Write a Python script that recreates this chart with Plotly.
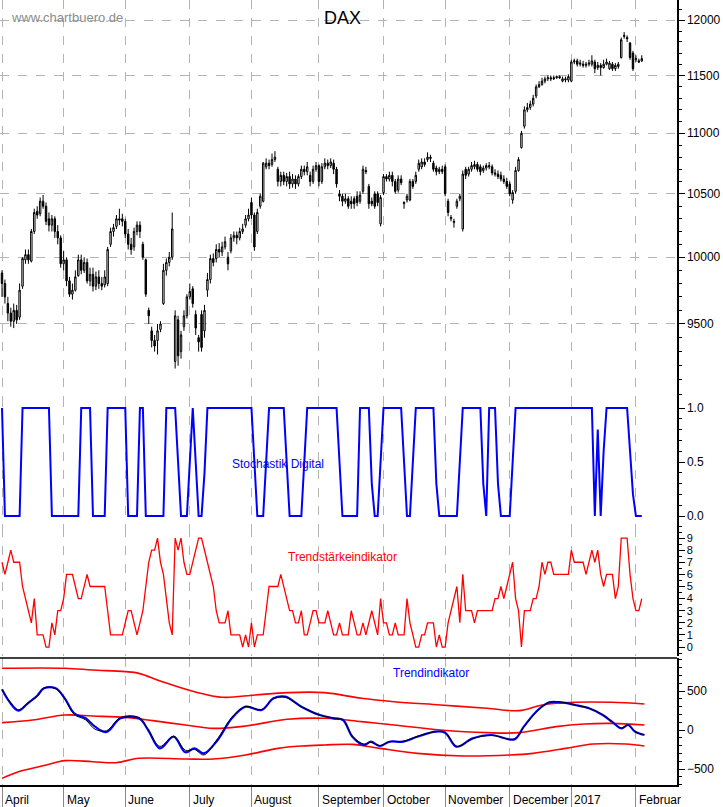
import plotly.graph_objects as go

# ---------------- DATA ----------------
month_labels = ["April", "May", "June", "July", "August", "September", "October",
                "November", "December", "2017", "Februar"]
month_start_day = [0, 21, 42, 64, 85, 108, 130, 151, 173, 194, 216]

# daily candles (trading day index 0..218)
opens = [9880,9800,9650,9580,9520,9600,9550,9780,9980,10020,9970,10200,10360,10340,10440,10400,10300,10250,10300,10200,10150,
 9950,9980,9820,9720,9750,9860,9980,9900,9960,9820,9870,9780,9850,9800,9790,9800,10100,10200,10240,10300,10300,
 10280,10180,10100,10080,10200,10250,10100,9980,9600,9450,9380,9380,9460,9650,9900,9960,10000,9230,9530,9300,9480,9560,
 9700,9760,9570,9400,9570,9450,9750,9830,9990,9990,10060,10040,10080,10000,10050,10150,10170,10150,10200,10250,10300,
 10430,10330,10200,10400,10440,10720,10750,10740,10780,10700,10600,10650,10600,10640,10580,10620,10580,10640,10700,10680,10650,10600,10700,
 10730,10600,10720,10750,10730,10750,10700,10500,10480,10440,10460,10440,10460,10480,10440,10520,10690,10560,10440,10500,10500,10260,
 10510,10640,10620,10650,10600,10530,10620,10420,10450,10450,10600,10600,10700,10720,10760,10780,10800,10750,10710,10680,10700,
 10720,10440,10300,10270,10400,10460,10220,10700,10660,10700,10720,10740,10720,10690,10710,10730,10720,10670,10660,10650,10620,10600,
 10580,10450,10520,10690,10880,11060,11200,11220,11250,11320,11400,11420,11450,11470,11480,11470,11480,11490,11450,11460,11460,
 11450,11620,11630,11600,11600,11590,11600,11600,11620,11570,11590,11570,11600,11560,11600,11560,11580,11660,11850,11840,11790,11700,
 11640,11630,11630]
closes = [9800,9700,9580,9520,9600,9530,9750,9990,10020,9980,10200,10350,10330,10440,10400,10280,10250,10300,10200,10150,9950,
 9980,9820,9720,9750,9850,9980,9900,9960,9820,9870,9780,9850,9800,9780,9850,10060,10200,10230,10300,10290,10280,
 10180,10100,10060,10200,10250,10200,10000,9720,9560,9380,9340,9450,9500,9900,9960,10000,10220,9560,9270,9420,9560,9700,
 9740,9650,9470,9370,9330,9600,9830,9990,9960,10060,10040,10080,10120,9950,10150,10170,10150,10200,10220,10300,10330,
 10330,10080,10350,10480,10750,10750,10730,10780,10800,10600,10650,10600,10640,10580,10620,10580,10640,10700,10680,10720,10600,10700,10730,
 10600,10720,10750,10730,10760,10700,10580,10480,10440,10460,10400,10420,10420,10430,10490,10700,10680,10420,10420,10400,10430,10470,
 10640,10620,10650,10600,10520,10620,10590,10430,10480,10600,10560,10650,10750,10760,10740,10800,10790,10700,10680,10700,10680,
 10500,10350,10310,10280,10440,10480,10660,10650,10700,10730,10740,10700,10680,10710,10730,10720,10670,10660,10640,10620,10600,10560,
 10500,10510,10690,10780,11000,11200,11220,11250,11300,11400,11420,11450,11470,11480,11470,11480,11490,11480,11470,11470,11490,
 11620,11630,11600,11610,11590,11600,11610,11630,11560,11590,11570,11600,11620,11610,11560,11590,11600,11820,11860,11830,11660,11560,
 11650,11620,11650]
highs = [9900,9830,9700,9620,9650,9640,9800,10000,10060,10060,10220,10380,10400,10470,10490,10430,10350,10330,10320,10250,10170,
 10050,10000,9850,9800,9900,10020,10020,10000,9990,9920,9920,9890,9900,9850,9900,10080,10230,10260,10330,10380,10340,
 10300,10220,10150,10230,10280,10280,10120,9990,9620,9480,9420,9500,9520,9950,9990,10040,10350,9600,9560,9450,9600,9720,
 9800,9780,9600,9420,9600,9640,9880,10020,10030,10100,10110,10120,10160,10040,10180,10200,10200,10230,10260,10330,10380,
 10470,10350,10380,10500,10760,10790,10780,10830,10850,10720,10680,10680,10670,10680,10660,10650,10660,10730,10730,10760,10680,10730,10760,
 10740,10750,10790,10780,10790,10780,10720,10530,10500,10500,10480,10480,10480,10520,10520,10730,10720,10580,10470,10520,10520,10490,
 10660,10660,10680,10680,10620,10650,10650,10440,10500,10620,10620,10680,10780,10790,10790,10840,10820,10770,10730,10720,10730,
 10740,10460,10330,10300,10460,10500,10690,10720,10720,10760,10770,10760,10740,10730,10750,10760,10740,10700,10690,10680,10650,10630,
 10600,10530,10720,10800,11020,11230,11260,11280,11330,11420,11450,11480,11490,11500,11500,11500,11500,11500,11490,11490,11510,
 11640,11650,11650,11640,11630,11620,11640,11680,11640,11620,11610,11640,11650,11630,11620,11610,11620,11840,11890,11860,11800,11720,
 11680,11650,11680]
lows = [9700,9650,9520,9480,9470,9500,9530,9760,9950,9950,9960,10180,10300,10320,10380,10250,10200,10200,10150,10100,9920,
 9900,9780,9700,9680,9740,9850,9870,9880,9800,9780,9740,9750,9760,9750,9770,9780,10080,10160,10220,10250,10240,
 10150,10060,10020,10050,10170,10150,9980,9700,9500,9330,9300,9280,9440,9640,9860,9930,9980,9180,9200,9250,9450,9540,
 9680,9620,9420,9300,9300,9400,9700,9800,9930,9960,10000,10010,10060,9900,10030,10120,10100,10130,10180,10230,10280,
 10300,10050,10180,10380,10430,10700,10700,10720,10760,10560,10560,10570,10560,10540,10550,10540,10560,10620,10650,10650,10560,10580,10680,
 10560,10580,10700,10700,10710,10660,10550,10440,10400,10420,10380,10380,10380,10400,10420,10500,10660,10380,10400,10380,10400,10240,
 10490,10600,10600,10560,10500,10510,10570,10380,10430,10440,10540,10580,10680,10700,10720,10760,10760,10680,10650,10660,10660,
 10480,10320,10280,10230,10380,10440,10200,10620,10640,10680,10700,10680,10650,10670,10690,10700,10650,10640,10620,10600,10580,10540,
 10480,10420,10500,10680,10870,11040,11180,11200,11230,11300,11390,11410,11430,11450,11450,11460,11470,11470,11440,11440,11440,
 11440,11600,11580,11580,11570,11570,11580,11580,11520,11550,11500,11560,11590,11550,11540,11540,11560,11650,11830,11800,11640,11540,
 11620,11610,11620]

stoch_digital = [1,0,0,0,0,0,0,1,1,1,1,1,1,1,1,1,1,0,0,0,0,
 0,0,0,0,0,0,1,1,1,1,0,0,0,0,0,1,1,1,1,1,1,
 1,0,0,0,0,1,1,0,0,0,0,0,0,0,1,1,1,1,0.5,0,0,0,
 0.5,1,0.5,0,0,0.4,1,1,1,1,1,1,1,1,1,1,1,1,1,1,1,
 1,0.5,0,0,0,0.5,1,1,1,1,1,1,0.5,0,0,0,0,0,0.5,1,1,1,1,
 1,1,1,1,1,1,1,0.5,0,0,0,0,0,0,1,1,1,1,0.3,0,0,0.5,
 1,1,1,1,1,1,1,0.5,0,0,0.5,1,1,1,1,1,1,1,0.3,0,0,
 0,0,0,0,0,0.5,1,1,1,1,1,1,1,0.3,0,1,1,1,0.3,0,0,0,
 0,0.5,1,1,1,1,1,1,1,1,1,1,1,1,1,1,1,1,1,1,1,
 1,1,1,1,1,1,1,1,0,0.8,0,0.6,1,1,1,1,1,1,1,1,0.6,0.2,
 0,0,0]

trend_strength = [7,6,7,8,7,7,7,5,4,3,2,4,1,1,1,0,0,2,1,3,3,
 4,6,6,6,5,4,4,5,6,5,5,5,5,5,5,3,1,1,1,1,1,
 2,3,3,2,1,2,3,5,7,8,8,9,7,6,4,2,1,9,8,9,7,6,
 6,7,8,9,9,8,7,6,5,3,2,2,2,3,1,1,1,1,0,1,0,
 2,0,1,1,1,3,5,5,5,5,6,5,4,3,3,2,2,3,1,1,2,3,3,
 2,2,2,3,2,1,1,2,1,1,1,3,2,1,1,2,1,2,3,2,1,4,
 2,2,1,1,2,1,1,1,4,2,1,0,0,1,1,2,2,2,0,1,0,
 0,2,3,4,5,2,6,3,3,3,2,3,3,3,3,3,3,4,4,5,4,5,
 6,7,4,3,0,3,3,3,4,4,5,7,6,7,7,6,6,6,6,6,6,
 8,7,7,7,7,6,7,8,7,8,6,5,6,6,6,4,5,9,9,9,6,4,
 3,3,4]

ti_day = [0,2.5,5.6,8.8,12,14.3,18.3,21.4,24.6,28.5,31.7,35.6,40.4,46.7,49.8,53.8,58.5,62.5,65.6,68.8,
          73.5,78.3,83,88.5,92.5,96.5,102,108.3,113,116.2,119.4,123.3,125.7,128.8,132,136.7,141.5,147.8,
          151,154.9,160.4,166.8,174.6,177.8,182.6,186.5,191.2,195.2,200,204.7,207.8,211,213.4,215.7,218.9]
ti_blue = [521,363,248,342,440,534,534,406,214,150,43,-26,150,150,0,-235,-86,-286,-235,-299,
           -128,150,299,256,406,427,299,192,150,128,-86,-192,-150,-205,-150,-150,-86,-21,
           -34,-214,-107,-64,-120,43,256,355,350,321,278,192,107,21,64,-21,-64]
ti_black = [515,370,260,345,430,540,528,400,200,130,10,-10,160,160,5,-210,-80,-260,-250,-320,
            -110,160,300,262,400,420,300,190,155,130,-80,-180,-160,-200,-150,-145,-80,-20,
            -30,-210,-110,-70,-115,40,250,355,355,320,280,195,110,25,60,-25,-60]
band_day = [0,21.4,30.9,42,46.7,54.6,65.6,75.1,86.2,97.2,109.9,122.5,133.6,149.4,165.2,176.2,184.1,195.2,207.8,218.9]
band_upper = [791,791,769,748,726,620,491,419,449,479,479,406,363,321,278,248,321,355,355,333]
band_mid_day = [0,10.4,21.4,30.9,42,51.4,62.5,72,83,97.2,109.9,122.5,133.6,149.4,165.2,176.2,188.8,198.3,207.8,218.9]
band_mid = [94,128,192,179,162,120,64,21,51,137,150,107,64,0,-34,-34,43,77,85,64]
band_low_day = [0,5.6,15.1,21.4,30.9,38.8,46.7,62.5,72,83,94,102,109.9,119.4,128.8,141.5,157.2,173,180.9,192,201.4,212.6,218.9]
band_lower = [-620,-535,-449,-393,-406,-419,-363,-372,-372,-320,-235,-205,-192,-184,-235,-299,-333,-320,-299,-235,-180,-180,-205]

price_ticks = [9500, 10000, 10500, 11000, 11500, 12000]

# ---------------- FIGURE ----------------
W, H = 723, 807
FONT = "Liberation Sans, Arial, sans-serif"
GRID = dict(showgrid=True, gridcolor="#b4b4b4", griddash="dash", gridwidth=1)
days = list(range(len(closes)))
xr = [-0.68, 230.0]

def dom(top, bottom):
    return [1 - bottom / H, 1 - top / H]

fig = go.Figure()
fig.add_trace(go.Candlestick(
    x=days, open=opens, high=highs, low=lows, close=closes,
    increasing=dict(line=dict(color="black", width=1), fillcolor="white"),
    decreasing=dict(line=dict(color="black", width=1), fillcolor="black"),
    whiskerwidth=0, xaxis="x", yaxis="y", hoverinfo="skip"))
fig.add_trace(go.Scatter(x=days, y=stoch_digital, mode="lines",
    line=dict(color="#0000ff", width=2), xaxis="x2", yaxis="y2", hoverinfo="skip"))
fig.add_trace(go.Scatter(x=days, y=trend_strength, mode="lines",
    line=dict(color="#ff0000", width=1.3), xaxis="x3", yaxis="y3", hoverinfo="skip"))
for bx, by in [(band_day, band_upper), (band_mid_day, band_mid), (band_low_day, band_lower)]:
    fig.add_trace(go.Scatter(x=bx, y=by, mode="lines", line=dict(color="#ff0000", width=1.6, shape="spline"),
                             xaxis="x4", yaxis="y4", hoverinfo="skip"))
fig.add_trace(go.Scatter(x=ti_day, y=ti_blue, mode="lines", line=dict(color="#0000ff", width=2.2, shape="spline"),
                         xaxis="x4", yaxis="y4", hoverinfo="skip"))
fig.add_trace(go.Scatter(x=ti_day, y=ti_black, mode="lines", line=dict(color="black", width=1, shape="spline"),
                         xaxis="x4", yaxis="y4", hoverinfo="skip"))

xdom = [0, 677 / W]
common_x = dict(range=xr, domain=xdom, tickvals=month_start_day, showticklabels=False, automargin=False,
                ticks="", zeroline=False, showline=False, **GRID)
yfont = dict(family=FONT, size=12, color="black")
common_y = dict(side="right", showline=True, linecolor="black", linewidth=1.5, ticks="outside",
                ticklen=6, tickcolor="black", tickfont=yfont, zeroline=False, automargin=False)

fig.update_layout(
    width=W, height=H, margin=dict(l=0, r=0, t=0, b=0, autoexpand=False),
    paper_bgcolor="white", plot_bgcolor="white", showlegend=False,
    font=dict(family=FONT),
    xaxis=dict(anchor="y", rangeslider=dict(visible=False), **common_x),
    xaxis2=dict(anchor="y2", matches="x", **common_x),
    xaxis3=dict(anchor="y3", matches="x", **common_x),
    xaxis4=dict(anchor="y4", matches="x", **{**common_x, "ticks": "outside", "ticklen": 22,
                "tickcolor": "#888888", "showline": True, "linecolor": "black", "linewidth": 1.5}),
    yaxis=dict(anchor="x", domain=dom(0, 398), type="log", range=[3.9530, 4.0859],
               tickvals=price_ticks, ticktext=[str(v) for v in price_ticks],
               minor=dict(ticks="outside", ticklen=3, tickcolor="black", dtick="L100", showgrid=False),
               **GRID, **common_y),
    yaxis2=dict(anchor="x2", domain=dom(398, 528), range=[-0.111, 1.093], tickvals=[0, 0.5, 1.0],
                tickformat=".1f", showgrid=False,
                minor=dict(ticks="outside", ticklen=3, tickcolor="black", dtick=0.1), **common_y),
    yaxis3=dict(anchor="x3", domain=dom(528, 656), range=[-0.74, 9.83], dtick=1, showgrid=False,
                minor=dict(ticks="outside", ticklen=3, tickcolor="black", dtick=0.5),
                **{**common_y, "tickfont": dict(family=FONT, size=11, color="black")}),
    yaxis4=dict(anchor="x4", domain=dom(658, 785), range=[-705, 923], tickvals=[-500, 0, 500], showgrid=False,
                minor=dict(ticks="outside", ticklen=3, tickcolor="black", dtick=100), **common_y),
)

# separator above trend indicator
fig.add_shape(type="line", xref="paper", yref="paper", x0=0, x1=677 / W, y0=1 - 658 / H, y1=1 - 658 / H,
              line=dict(color="black", width=1.5))

def label(text, x, y, size, color, anchor="left"):
    fig.add_annotation(text=text, xref="paper", yref="paper", x=x / W, y=1 - y / H, showarrow=False,
                       xanchor=anchor, yanchor="middle", font=dict(family=FONT, size=size, color=color))

label("www.chartbuero.de", 9, 17, 13, "#8c8c8c")
label("DAX", 342, 18, 18, "black", "center")
label("Stochastik Digital", 278, 464, 12, "#0000ff", "center")
label("Trendstärkeindikator", 342, 557, 12, "#ff0000", "center")
label("Trendindikator", 431, 673, 12, "#0000ff", "center")

# month labels, left-aligned just right of each month tick
for d, name in zip(month_start_day, month_labels):
    fig.add_annotation(text=name, xref="x4", yref="paper", x=d, y=1 - 800 / H, showarrow=False,
                       xanchor="left", yanchor="middle", xshift=1,
                       font=dict(family=FONT, size=12, color="black"))

fig.write_html("out.html", config={"displayModeBar": False, "staticPlot": True},
               post_script="document.body.style.margin='0';document.body.style.overflow='hidden';")
